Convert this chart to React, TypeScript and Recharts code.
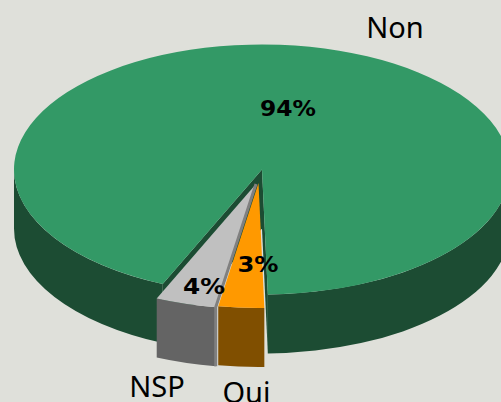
import React from 'react';
import { PieChart, Pie } from 'recharts';

const categories = ['Non', 'Oui', 'NSP'];
const shares = [94, 3, 4];

const topColors = ['#339966', '#FF9900', '#C0C0C0'];
const wallColors = ['#1C4C33', '#804F00', '#646464'];

const chartData = categories.map((name, i) => ({ name, value: shares[i], fill: topColors[i] }));

// the look of the tilted pie
const TILT = 0.504;
const DEPTH = 59;
const RX = 248;
const CX = 262;
const CY = 169.5;
const pulled = [
  { dx: 0, dy: 0 },
  { dx: -3.5, dy: 13.5 },
  { dx: -6, dy: 14.5 },
];
const percentAt = [
  { x: 288, y: 108, w: 56 },
  { x: 258, y: 264, w: 41 },
  { x: 204, y: 286, w: 42 },
];
const nameAt = [
  { x: 395, y: 26 },
  { x: 246.5, y: 391 },
  { x: 157, y: 385 },
];

const rad = (a: number) => (a * Math.PI) / 180;

const TiltedSlice = (props: any) => {
  const { cx, cy, outerRadius: r, startAngle, endAngle, index } = props;
  const ry = r * TILT;
  const ox = cx + pulled[index].dx;
  const oy = cy + pulled[index].dy;
  const px = (a: number) => ox + r * Math.cos(rad(a));
  const py = (a: number) => oy - ry * Math.sin(rad(a));
  const large = Math.abs(endAngle - startAngle) > 180 ? 1 : 0;
  const top = `M${ox},${oy} L${px(startAngle)},${py(startAngle)} A${r},${ry} 0 ${large} 1 ${px(endAngle)},${py(endAngle)} Z`;

  // outer wall, only the front half of the rim shows (angles run clockwise)
  const walls: React.ReactNode[] = [];
  const lo = Math.min(startAngle, endAngle);
  const hi = Math.max(startAngle, endAngle);
  for (const k of [-360, 0]) {
    const a = Math.max(lo, 180 + k);
    const b = Math.min(hi, 360 + k);
    if (a < b) {
      walls.push(
        <path
          key={k}
          fill={wallColors[index]}
          d={`M${px(a)},${py(a)} A${r},${ry} 0 0 0 ${px(b)},${py(b)} L${px(b)},${py(b) + DEPTH} A${r},${ry} 0 0 1 ${px(a)},${py(a) + DEPTH} Z`}
        />,
      );
    }
  }
  // cut faces
  const cut = (a: number) =>
    `M${ox},${oy} L${px(a)},${py(a)} L${px(a)},${py(a) + DEPTH} L${ox},${oy + DEPTH} Z`;

  return (
    <g>
      {index === 0 && <path d={cut(startAngle)} fill={wallColors[0]} />}
      {index === 0 && <path d={cut(endAngle)} fill={wallColors[0]} />}
      {walls}
      <path d={top} fill={topColors[index]} />
      {index === 2 && (
        <path
          d={`M${ox},${oy} L${px(startAngle)},${py(startAngle)} L${px(startAngle)},${py(startAngle) + DEPTH}`}
          fill="none"
          stroke="#808080"
          strokeWidth={3}
        />
      )}
    </g>
  );
};

const renderLabels = (props: any) => {
  const { index, value, name } = props;
  return (
    <g>
      <text
        x={percentAt[index].x}
        y={percentAt[index].y}
        textAnchor="middle"
        dominantBaseline="central"
        fontFamily="DejaVu Sans"
        fontWeight={700}
        fontSize={22}
        textLength={percentAt[index].w}
        lengthAdjust="spacingAndGlyphs"
        fill="#000"
      >
        {value}%
      </text>
      <text
        x={nameAt[index].x}
        y={nameAt[index].y}
        textAnchor="middle"
        dominantBaseline="central"
        fontFamily="Noto Sans"
        fontSize={29}
        fill="#000"
      >
        {name}
      </text>
    </g>
  );
};

export default function App() {
  return (
    <div style={{ position: 'absolute', left: 0, top: 0, width: 501, height: 402, background: '#DFE0DA', overflow: 'hidden' }}>
      <PieChart width={501} height={402} margin={{ top: 0, right: 0, bottom: 0, left: 0 }}>
        <Pie
          data={chartData}
          dataKey="value"
          nameKey="name"
          cx={CX}
          cy={CY}
          outerRadius={RX}
          startAngle={246.4}
          endAngle={-113.6}
          stroke="none"
          shape={TiltedSlice}
          label={renderLabels}
          labelLine={false}
          isAnimationActive={false}
        />
      </PieChart>
    </div>
  );
}
